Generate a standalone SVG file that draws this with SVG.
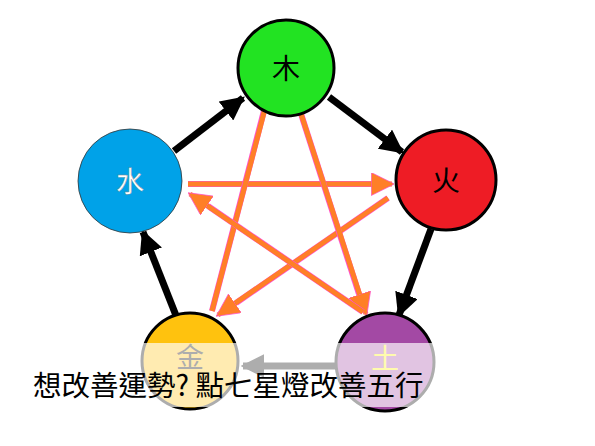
<svg xmlns="http://www.w3.org/2000/svg" width="595" height="446" viewBox="0 0 595 446">
<defs>
<marker id="bh" viewBox="0 0 10 10" refX="9" refY="5" markerWidth="3.4" markerHeight="3.4" orient="auto" markerUnits="strokeWidth"><path d="M0,0 L10,5 L0,10 Z" fill="#000"/></marker>
<marker id="oh" viewBox="0 0 10 10" refX="9" refY="5" markerWidth="4.6" markerHeight="4.6" orient="auto" markerUnits="strokeWidth"><path d="M0,0 L10,5 L0,10 Z" fill="#FF7F27" stroke="#FF4FD0" stroke-width="0.3"/></marker>
</defs>
<style>
.blk{stroke:#000;stroke-width:7;fill:none}
.org{stroke:#FF7F27;stroke-width:5;fill:none}
.orgb{stroke:#FF4FD0;stroke-width:6;fill:none}
.node circle{stroke:#000;stroke-width:3}
.lbl{font-family:"Noto Sans CJK TC","Noto Sans CJK SC",sans-serif;font-size:28px;text-anchor:middle}
</style>
<rect width="595" height="446" fill="#fff"/>
<g id="connectors">
<line class="blk" x1="174" y1="151" x2="243" y2="98" marker-end="url(#bh)"/>
<line class="blk" x1="329" y1="97" x2="402" y2="152" marker-end="url(#bh)"/>
<line class="blk" x1="431" y1="229" x2="399" y2="315" marker-end="url(#bh)"/>
<line class="blk" x1="177" y1="318" x2="143" y2="232" marker-end="url(#bh)"/>
<line class="blk" x1="336" y1="366" x2="243" y2="366" marker-end="url(#bh)"/>
<line class="orgb" x1="188" y1="184" x2="372" y2="184"/>
<line class="org" x1="188" y1="184" x2="392" y2="184" marker-end="url(#oh)"/>
<line class="orgb" x1="388" y1="198" x2="236" y2="303"/>
<line class="org" x1="388" y1="198" x2="218" y2="315" marker-end="url(#oh)"/>
<line class="orgb" x1="212" y1="311" x2="266" y2="103"/>
<line class="org" x1="212" y1="311" x2="272" y2="82" marker-end="url(#oh)"/>
<line class="orgb" x1="293" y1="89" x2="359" y2="294"/>
<line class="org" x1="293" y1="89" x2="366" y2="314" marker-end="url(#oh)"/>
<line class="orgb" x1="363" y1="312" x2="208" y2="206"/>
<line class="org" x1="363" y1="312" x2="190" y2="194" marker-end="url(#oh)"/>
</g>
<g id="wood" class="node"><circle cx="286" cy="68" r="48" fill="#22E322"/><text class="lbl" x="286" y="79" fill="#000">木</text></g>
<g id="fire" class="node"><circle cx="446" cy="180" r="50" fill="#EE1C25"/><text class="lbl" x="446" y="191" fill="#000">火</text></g>
<g id="water" class="node"><circle cx="130" cy="181" r="52" fill="#00A2E8" style="stroke:#333;stroke-width:0.8"/><text class="lbl" x="130" y="192" fill="#fff" stroke="#888" stroke-width="0.4">水</text></g>
<g id="metal" class="node"><circle cx="190" cy="361" r="48" fill="#FFC20E"/><text class="lbl" x="190" y="368" fill="#000">金</text></g>
<g id="earth" class="node"><circle cx="385" cy="362" r="49" fill="#A349A4"/><text class="lbl" x="385" y="369" fill="#FFF200">土</text></g>
<rect x="0" y="343" width="595" height="64" fill="#fff" fill-opacity="0.68"/>
<text x="33" y="396" font-family="'Noto Sans CJK TC','Noto Sans CJK SC',sans-serif" font-size="28.5" fill="#000">想改善運勢? 點七星燈改善五行</text>
</svg>
